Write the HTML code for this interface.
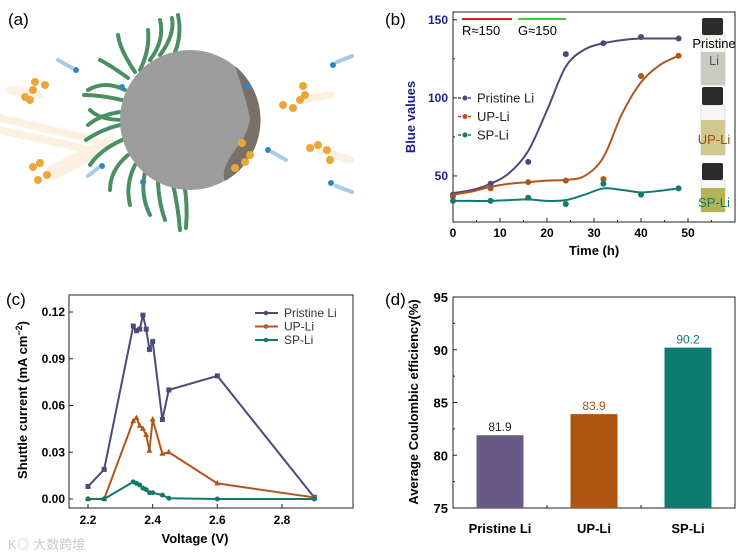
<!DOCTYPE html>
<html><head><meta charset="utf-8"><style>
body{margin:0;background:#fff}
svg{display:block;font-family:"Liberation Sans","Noto Sans CJK SC",sans-serif}
.b{font-weight:bold}
</style></head><body>
<svg id="s" width="745" height="554" viewBox="0 0 745 554" xmlns="http://www.w3.org/2000/svg">
<g>
<text x="8" y="25" font-size="17">(a)</text>
<g stroke="#f4c27a" stroke-width="8" opacity="0.22" stroke-linecap="round">
<line x1="0" y1="118" x2="95" y2="140"/><line x1="0" y1="130" x2="90" y2="150"/><line x1="50" y1="170" x2="110" y2="140"/><line x1="10" y1="90" x2="40" y2="95"/><line x1="300" y1="100" x2="330" y2="95"/><line x1="320" y1="150" x2="350" y2="160"/><line x1="55" y1="175" x2="95" y2="155"/>
</g>
<g stroke="#4a8f64" stroke-width="4" fill="none" stroke-linecap="round">
<path d="M140 70 Q150 50 148 30"/><path d="M150 60 Q165 40 160 20"/><path d="M160 55 Q175 35 172 18"/><path d="M175 52 Q182 35 178 15"/><path d="M128 78 Q110 65 100 60"/><path d="M125 90 Q105 80 88 90"/><path d="M122 100 Q100 95 84 95"/><path d="M120 112 Q100 115 88 125"/><path d="M120 125 Q100 130 86 140"/><path d="M122 140 Q100 150 90 165"/><path d="M128 155 Q110 170 110 190"/><path d="M135 165 Q125 185 130 205"/><path d="M145 172 Q140 195 150 215"/><path d="M158 178 Q158 200 165 220"/><path d="M172 180 Q178 205 180 230"/><path d="M184 183 Q188 205 186 228"/><path d="M135 72 Q120 50 118 35"/><path d="M123 120 Q100 120 90 110"/>
</g>
<circle cx="190" cy="120" r="70" fill="#9c9c9c"/>
<path d="M235 66 A70 70 0 0 1 225 181 Q220 170 235 150 Q248 135 250 118 Q245 95 235 66Z" fill="#7a7068"/>
<g fill="#2f86c6"><circle cx="76" cy="70" r="3"/><circle cx="122" cy="87" r="3"/><circle cx="247" cy="86" r="3"/><circle cx="102" cy="166" r="3"/><circle cx="143" cy="182" r="3"/><circle cx="268" cy="150" r="3"/><circle cx="333" cy="65" r="3"/><circle cx="331" cy="183" r="3"/></g>
<g stroke="#a8cce6" stroke-width="4" stroke-linecap="round"><line x1="58" y1="60" x2="72" y2="68"/><line x1="88" y1="176" x2="98" y2="168"/><line x1="272" y1="152" x2="286" y2="160"/><line x1="337" y1="62" x2="352" y2="56"/><line x1="336" y1="186" x2="352" y2="192"/></g>
<g fill="#eba63a"><circle cx="25" cy="97" r="4"/><circle cx="30" cy="100" r="4"/><circle cx="33" cy="90" r="4"/><circle cx="45" cy="85" r="4"/><circle cx="35" cy="82" r="4"/><circle cx="33" cy="167" r="4"/><circle cx="40" cy="163" r="4"/><circle cx="47" cy="175" r="4"/><circle cx="38" cy="180" r="4"/><circle cx="283" cy="105" r="4"/><circle cx="293" cy="108" r="4"/><circle cx="300" cy="100" r="4"/><circle cx="305" cy="95" r="4"/><circle cx="303" cy="86" r="4"/><circle cx="310" cy="148" r="4"/><circle cx="318" cy="145" r="4"/><circle cx="327" cy="150" r="4"/><circle cx="330" cy="160" r="4"/><circle cx="242" cy="143" r="4"/><circle cx="250" cy="155" r="4"/><circle cx="245" cy="162" r="4"/><circle cx="235" cy="168" r="4"/></g>
</g>

<text x="385" y="25" font-size="17">(b)</text>
<text x="6" y="305" font-size="17">(c)</text>
<text x="385" y="305" font-size="17">(d)</text>
<text x="8" y="549" font-size="13" fill="#c8c8c8">K◎ 大数跨境</text>

<g id="pb"></g>
<g id="pc"></g>
<g id="pd"></g>
</svg>
<script>
// Panel b data
const bTimes=[0,8,16,24,32,40,48];
const bPristine=[38,45,59,128,135,139,138];
const bUP=[37,42,46,47,48,114,127];
const bSP=[34,34,36,32,45,38,42];
const bFitTimes=[0,4,8,12,16,20,24,28,32,36,40,44,48];
const bFitPristine=[39,41,45,52,66,92,120,131,135,137,138,138,138];
const bFitUP=[38,40,43,45,46,47,47.5,50,62,90,110,121,127];
const bFitSP=[34,34,34,34.5,35,34,34.5,38,42,41,39.5,40.5,42];
const bXTicks=[0,10,20,30,40,50];
const bYTicks=[50,100,150];
// Panel c data
const cVolt=[2.2,2.25,2.34,2.35,2.36,2.37,2.38,2.39,2.40,2.43,2.45,2.6,2.9];
const cPristine=[0.008,0.019,0.111,0.108,0.109,0.118,0.109,0.096,0.101,0.051,0.070,0.079,0.001];
const cUP=[0,0,0.050,0.052,0.047,0.045,0.041,0.031,0.051,0.029,0.030,0.010,0.001];
const cSP=[0,0,0.011,0.010,0.009,0.007,0.006,0.004,0.004,0.0025,0.0005,0,0];
const cXTicks=[2.2,2.4,2.6,2.8];
const cYTicks=[0,0.03,0.06,0.09,0.12];
// Panel d data
const dCats=["Pristine Li","UP-Li","SP-Li"];
const dValues=[81.9,83.9,90.2];
const dYTicks=[75,80,85,90,95];

const NS="http://www.w3.org/2000/svg";
function mk(p,tag,at,txt){const e=document.createElementNS(NS,tag);for(const k in at)e.setAttribute(k,at[k]);if(txt!==undefined)e.textContent=txt;p.appendChild(e);return e;}
function smooth(pts){let d=`M${pts[0][0]},${pts[0][1]}`;for(let i=0;i<pts.length-1;i++){const p0=pts[i-1]||pts[i],p1=pts[i],p2=pts[i+1],p3=pts[i+2]||p2;d+=` C${p1[0]+(p2[0]-p0[0])/6},${p1[1]+(p2[1]-p0[1])/6} ${p2[0]-(p3[0]-p1[0])/6},${p2[1]-(p3[1]-p1[1])/6} ${p2[0]},${p2[1]}`;}return d;}

// ---- Panel b
(function(){
const g=document.getElementById('pb');
const L=453,R=735,T=12,B=222;
const x=v=>L+(v-0)/60*(R-L);
const y=v=>B-(v-20.5)/(155-20.5)*(B-T);
const cols=["#4b4a78","#b0561a","#12796d"];
const names=["Pristine Li","UP-Li","SP-Li"];
const fits=[bFitPristine,bFitUP,bFitSP],pts=[bPristine,bUP,bSP];
const vials=[[18,35,85,52,"#c9cbc1"],[87,105,155,120,"#cfc88f"],[163,180,212,188,"#b4b455"]];
vials.forEach((v,i)=>{
 const vb=mk(g,'rect',{x:701,y:v[1],width:24,height:v[2]-v[1],fill:"#f6f6f2",stroke:"#ddd"});
 
 mk(g,'rect',{x:701,y:v[3],width:24,height:v[2]-v[3],fill:v[4]});
 const c=mk(g,'rect',{x:702,y:v[0],width:21,height:v[1]-v[0],fill:"#2b2b2b",rx:2});
 
});
mk(g,'text',{x:714,y:48,"font-size":13,"text-anchor":"middle"},"Pristine");
mk(g,'text',{x:714,y:65,"font-size":13,"text-anchor":"middle",fill:"#555"},"Li");
mk(g,'text',{x:714,y:144,"font-size":13,"text-anchor":"middle",fill:"#a04a10"},"UP-Li");
mk(g,'text',{x:714,y:207,"font-size":13,"text-anchor":"middle",fill:"#12796d"},"SP-Li");
const fr=mk(g,'rect',{x:L,y:T,width:R-L,height:B-T,fill:"none",stroke:"#222","stroke-width":1});

bXTicks.forEach(t=>{mk(g,'line',{x1:x(t),x2:x(t),y1:B,y2:B-4,stroke:"#222"});mk(g,'text',{x:x(t),y:B+15,"font-size":12,"text-anchor":"middle",class:"b"},t);});
[5,15,25,35,45,55].forEach(t=>mk(g,'line',{x1:x(t),x2:x(t),y1:B,y2:B-2,stroke:"#222"}));
bYTicks.forEach(t=>{mk(g,'line',{x1:L,x2:L+4,y1:y(t),y2:y(t),stroke:"#222"});mk(g,'text',{x:L-5,y:y(t)+4,"font-size":12,"text-anchor":"end",class:"b",fill:"#1e1e8a"},t);});
[75,125].forEach(t=>mk(g,'line',{x1:L,x2:L+2,y1:y(t),y2:y(t),stroke:"#222"}));
mk(g,'text',{x:594,y:255,"font-size":13,"text-anchor":"middle",class:"b"},"Time (h)");
mk(g,'text',{x:0,y:0,"font-size":13,"text-anchor":"middle",class:"b",fill:"#1e1e8a",transform:"translate(415,117) rotate(-90)"},"Blue values");
mk(g,'line',{x1:462,x2:512,y1:19,y2:19,stroke:"#d42020","stroke-width":2});
mk(g,'line',{x1:518,x2:566,y1:19,y2:19,stroke:"#30d030","stroke-width":2});
mk(g,'text',{x:462,y:35,"font-size":13},"R≈150");
mk(g,'text',{x:518,y:35,"font-size":13},"G≈150");
for(let s=0;s<3;s++){
 const fp=fits[s].map((v,i)=>[x(bFitTimes[i]),y(v)]);
 const p=mk(g,'path',{d:smooth(fp),fill:"none",stroke:cols[s],"stroke-width":2});
 
 pts[s].forEach((v,i)=>{const c=mk(g,'circle',{cx:x(bTimes[i]),cy:y(v),r:3,fill:cols[s]});
 });
 const ly=98+s*18.5;
 mk(g,'line',{x1:458,x2:472,y1:ly,y2:ly,stroke:cols[s],"stroke-width":1.5,"stroke-dasharray":"3,2"});
 mk(g,'circle',{cx:465,cy:ly,r:2.5,fill:cols[s]});
 const lt=mk(g,'text',{x:477,y:ly+4.5,"font-size":13,fill:"#222"},names[s]);
 
}
})();

// ---- Panel c
(function(){
const g=document.getElementById('pc');
const L=69,R=353,T=295,B=508;
const x=v=>88+(v-2.2)/0.6*(282-88);
const y=v=>499-v/0.12*(499-312);
const cols=["#4b4a78","#b0561a","#12796d"];
const names=["Pristine Li","UP-Li","SP-Li"];
const ser=[cPristine,cUP,cSP];
const fr=mk(g,'rect',{x:L,y:T,width:R-L,height:B-T,fill:"none",stroke:"#222"});

cXTicks.forEach(t=>{mk(g,'line',{x1:x(t),x2:x(t),y1:B,y2:B-4,stroke:"#222"});mk(g,'text',{x:x(t),y:B+16,"font-size":12,"text-anchor":"middle",class:"b"},t.toFixed(1));});
cYTicks.forEach(t=>{mk(g,'line',{x1:L,x2:L+4,y1:y(t),y2:y(t),stroke:"#222"});mk(g,'text',{x:L-4,y:y(t)+4,"font-size":12,"text-anchor":"end",class:"b"},t.toFixed(2));});
mk(g,'text',{x:195,y:543,"font-size":13,"text-anchor":"middle",class:"b"},"Voltage (V)");
const yt=mk(g,'text',{x:0,y:0,"font-size":13,"text-anchor":"middle",class:"b",transform:"translate(27,400) rotate(-90)"},"Shuttle current (mA cm");
mk(yt,'tspan',{dy:-5,"font-size":9},"−2");mk(yt,'tspan',{dy:5},")");
for(let s=0;s<3;s++){
 const pp=ser[s].map((v,i)=>[x(cVolt[i]),y(v)]);
 const l=mk(g,'polyline',{points:pp.map(p=>p.join(',')).join(' '),fill:"none",stroke:cols[s],"stroke-width":2});
 
 pp.forEach(p=>{let m;
  if(s==0)m=mk(g,'rect',{x:p[0]-2.5,y:p[1]-2.5,width:5,height:5,fill:cols[s]});
  else if(s==1)m=mk(g,'path',{d:`M${p[0]},${p[1]-3.5} L${p[0]+3},${p[1]+2} L${p[0]-3},${p[1]+2}Z`,fill:cols[s]});
  else m=mk(g,'circle',{cx:p[0],cy:p[1],r:2.5,fill:cols[s]});
  });
 const ly=313+s*13.5;
 mk(g,'line',{x1:255,x2:278,y1:ly,y2:ly,stroke:cols[s],"stroke-width":2});
 mk(g,'circle',{cx:266,cy:ly,r:2.3,fill:cols[s]});
 const lt=mk(g,'text',{x:284,y:ly+4,"font-size":12,fill:"#333"},names[s]);
 
}
})();

// ---- Panel d
(function(){
const g=document.getElementById('pd');
const L=453,R=735,T=297,B=508;
const y=v=>B-(v-75)/20*(B-T);
const xc=i=>L+(i+1)/3*(R-L)-(R-L)/6;
const cols=["#675b86","#ad5511","#0d7a72"];
const fr=mk(g,'rect',{x:L,y:T,width:R-L,height:B-T,fill:"none",stroke:"#222"});

dYTicks.forEach(t=>{mk(g,'line',{x1:L,x2:L+4,y1:y(t),y2:y(t),stroke:"#222"});mk(g,'text',{x:L-5,y:y(t)+5,"font-size":13,"text-anchor":"end",class:"b"},t);});
[77.5,82.5,87.5,92.5].forEach(t=>mk(g,'line',{x1:L,x2:L+2,y1:y(t),y2:y(t),stroke:"#222"}));
dCats.forEach((c,i)=>{
 const b=mk(g,'rect',{x:xc(i)-23.5,y:y(dValues[i]),width:47,height:B-y(dValues[i]),fill:cols[i]});
 
 mk(g,'text',{x:xc(i),y:y(dValues[i])-4,"font-size":12,"text-anchor":"middle",fill:i==0?"#222":cols[i]},dValues[i].toFixed(1));
 mk(g,'text',{x:xc(i),y:533,"font-size":13,"text-anchor":"middle",class:"b"},c);
 if(i<2)mk(g,'line',{x1:xc(i)+47,x2:xc(i)+47,y1:B,y2:B-3,stroke:"#222"});
});
mk(g,'text',{x:0,y:0,"font-size":13,"text-anchor":"middle",class:"b",transform:"translate(418,402) rotate(-90)"},"Average Coulombic efficiency(%)");
})();
</script>
</body></html>
